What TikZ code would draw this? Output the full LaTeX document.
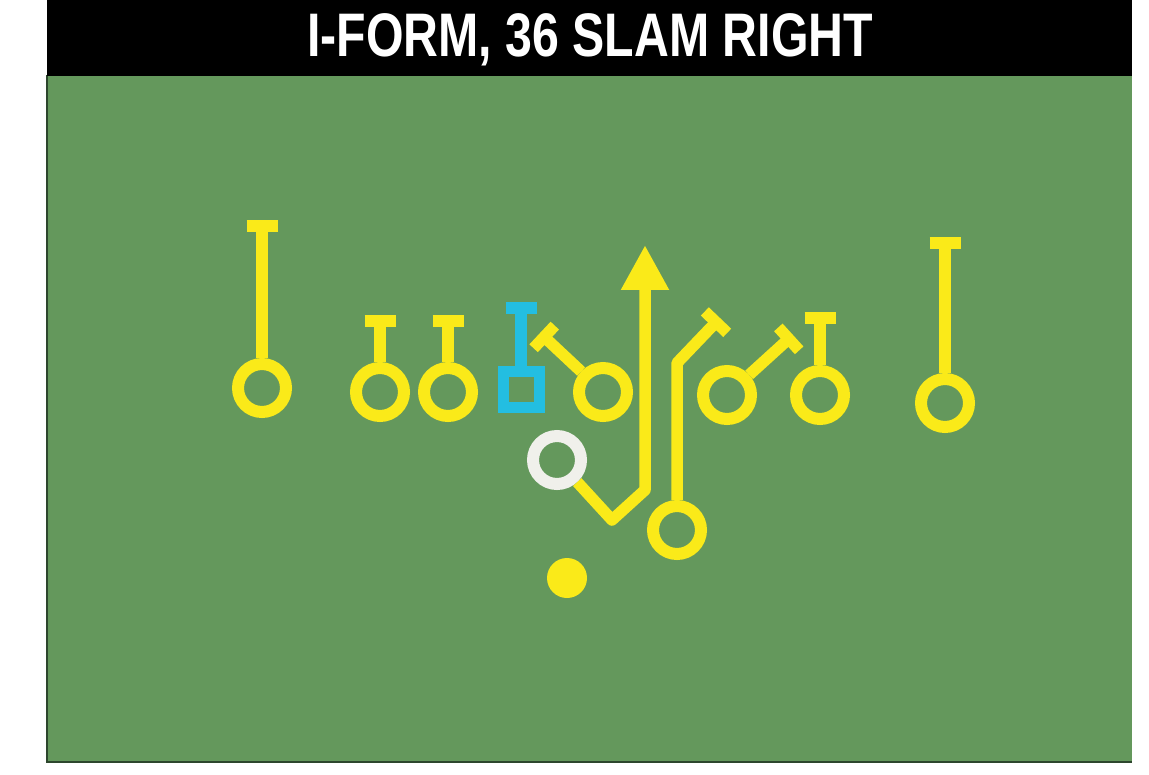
\documentclass[tikz,border=0pt]{standalone}
\usepackage{fontspec}
\setmainfont{Liberation Sans}
\usetikzlibrary{arrows.meta, positioning}
\definecolor{fieldgreen}{RGB}{100,152,92}
\definecolor{fieldedge}{RGB}{45,70,45}
\definecolor{routeyellow}{RGB}{250,234,25}
\definecolor{centercyan}{RGB}{35,190,225}
\definecolor{backwhite}{RGB}{240,240,235}

\tikzset{
  player/.style={circle, draw=routeyellow, line width=0.24cm, minimum size=0.96cm, inner sep=0pt},
  centerbox/.style={rectangle, draw=centercyan, line width=0.22cm, minimum size=0.72cm, inner sep=0pt},
  ball/.style={circle, fill=routeyellow, minimum size=0.8cm, inner sep=0pt},
  route/.style={routeyellow, line width=0.23cm, line join=round},
  block/.style={route, -{Bar[width=0.62cm]}},
  carry/.style={route, -{Triangle[width=0.9cm, length=0.9cm]}},
}

\begin{document}
\begin{tikzpicture}[x=0.02cm, y=-0.02cm]
    \useasboundingbox (0,0) rectangle (1149,774);

    % Field and title bar
    \fill[white] (0,0) rectangle (1149,774);
    \fill[fieldgreen] (47,75) rectangle (1132,762);
    \draw[fieldedge, line width=1.2pt] (47,75) -- (47,762) -- (1132,762);
    \fill[black] (47,0) rectangle (1132,76);
    \node[text=white, font=\bfseries\fontsize{35}{35}\selectfont] (title) at (590,40)
        {\scalebox{0.785}[1]{I-FORM, 36 SLAM RIGHT}};

    % Line
    \node[player] (le) at (262,388) {};
    \node[player] (lt) at (380,392) {};
    \node[player] (lg) at (448,392) {};
    \node[centerbox] (c) at (521,389) {};
    \node[player] (rg) at (603,392) {};
    \node[player] (rt) at (727,395) {};
    \node[player] (te) at (820,395) {};
    \node[player] (re) at (945,403) {};

    % Backs
    \node[player, draw=backwhite] (hb) at (557,460) {};
    \node[player] (fb) at (677,530) {};
    \node[ball] (qb) at (567,578) {};

    % Route ends
    \coordinate (le-end) at (262,220);
    \coordinate (lt-end) at (380,315);
    \coordinate (lg-end) at (448,315);
    \coordinate (c-end) at (521,302);
    \coordinate (rg-end) at (540,333);
    \coordinate (rt-end) at (793,335);
    \coordinate (te-end) at (820,312);
    \coordinate (re-end) at (945,237);
    \coordinate (fb-bend) at (677,363);
    \coordinate (fb-end) at (720,318);
    \coordinate (hb-dip) at (612,520);
    \coordinate (hb-turn) at (645,490);
    \coordinate (hb-end) at (645,245);

    % Blocks
    \draw[block] (le) -- (le-end);
    \draw[block] (lt) -- (lt-end);
    \draw[block] (lg) -- (lg-end);
    \draw[block, centercyan] (c) -- (c-end);
    \draw[block] (rg) -- (rg-end);
    \draw[block] (rt) -- (rt-end);
    \draw[block] (te) -- (te-end);
    \draw[block] (re) -- (re-end);
    \draw[block] (fb) -- (fb-bend) -- (fb-end);

    % Ball carrier
    \draw[carry] (hb) -- (hb-dip) -- (hb-turn) -- (hb-end);
\end{tikzpicture}
\end{document}
